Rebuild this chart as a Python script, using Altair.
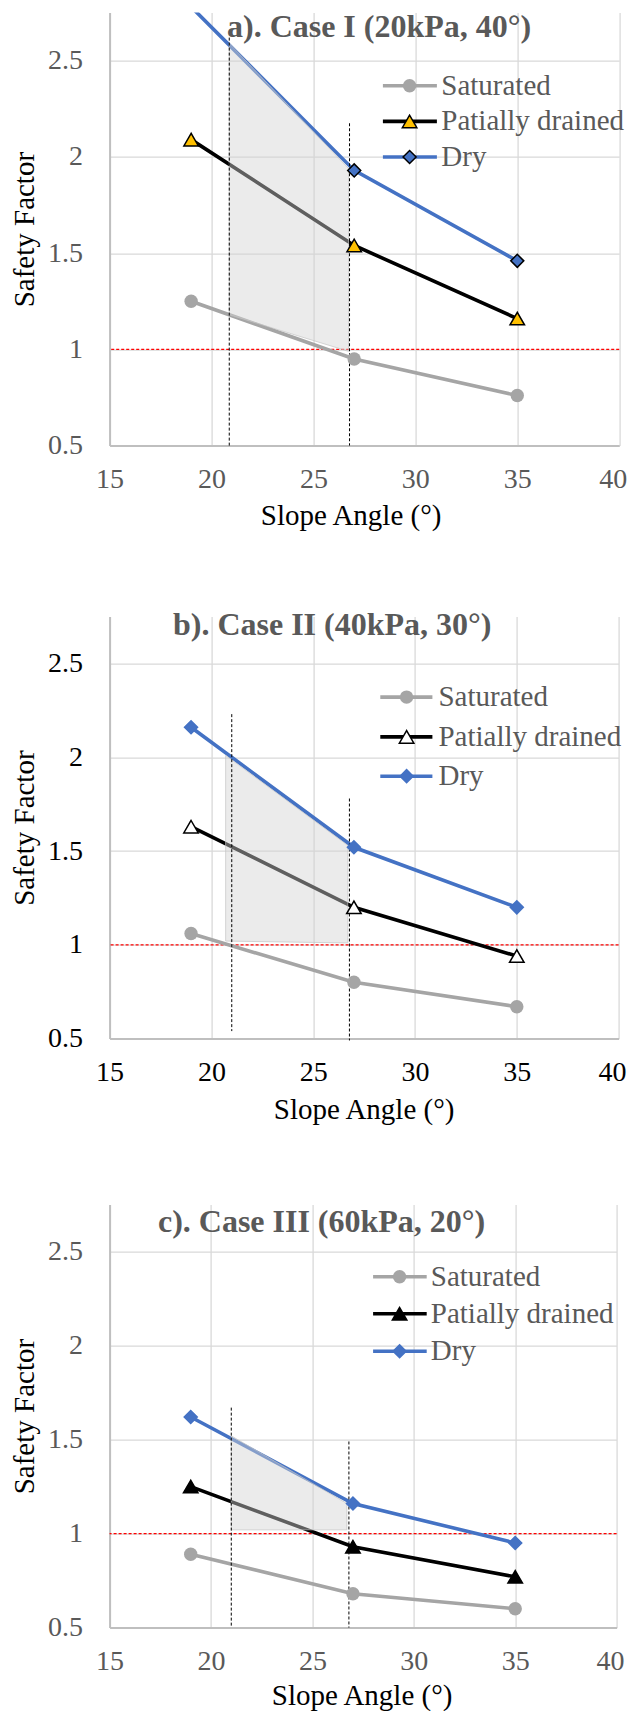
import altair as alt
import pandas as pd

FONT = "Liberation Serif"
GRAY_TXT = "#595959"

# ---------------- data ----------------
angles = [19, 27, 35]
series_names = ["Saturated", "Patially drained", "Dry"]
series_colors = ["#a5a5a5", "#000000", "#4472c4"]

x_ticks = [15, 20, 25, 30, 35, 40]
y_ticks = [0.5, 1, 1.5, 2, 2.5]
x_domain = [15, 40]
y_domain = [0.5, 2.75]
threshold = [1.0]

titles = ["a). Case I (20kPa, 40°)", "b). Case II (40kPa, 30°)", "c). Case III (60kPa, 20°)"]

# Case I
a_sat = [1.25, 0.95, 0.76]
a_part = [2.09, 1.54, 1.16]
a_dry = [2.78, 1.93, 1.46]
# Case II
b_sat = [1.06, 0.80, 0.67]
b_part = [1.63, 1.20, 0.94]
b_dry = [2.16, 1.52, 1.20]
# Case III
c_sat = [0.89, 0.68, 0.60]
c_part = [1.25, 0.93, 0.77]
c_dry = [1.62, 1.16, 0.95]

# dashed vertical guides (x, top, bottom)
a_vx, a_vtop, a_vbot = [20.87, 26.77], [2.62, 2.175], [0.5, 0.5]
b_vx, b_vtop, b_vbot = [21.0, 26.78], [2.23, 1.78], [0.54, 0.49]
c_vx, c_vtop, c_vbot = [21.0, 26.8], [1.67, 1.49], [0.5, 0.5]

# shaded zones (x, top, bottom)
a_sx, a_stop, a_sbot = [20.87, 26.72], [2.59, 1.94], [1.18, 0.99]
b_sx, b_stop, b_sbot = [20.7, 26.7], [2.01, 1.53], [1.02, 1.01]
c_sx, c_stop, c_sbot = [21.0, 26.7], [1.52, 1.16], [1.02, 1.02]

one = pd.DataFrame({"_": [0]})
PAD_LEFT = 2.6
Y_TITLE_X = -84.9   # y-axis title centre, relative to the plot's left edge


def make_panel(title, sat, part, dry, vx, vtop, vbot, sx, stop, sbot, st):
    xs = alt.Scale(domain=x_domain, nice=False, zero=False)
    ys = alt.Scale(domain=y_domain, nice=False, zero=False)
    last = x_ticks[-1]
    xaxis = alt.Axis(
        values=x_ticks, title="Slope Angle (°)", grid=True, gridColor="#d9d9d9",
        gridWidth=1.3, domainColor="#bfbfbf", domainWidth=2, ticks=False, tickSize=0,
        labelFont=FONT, labelFontSize=28, labelColor=st["lab"], labelPadding=34,
        labelBaseline="middle", labelFlush=False, labelOverlap=False,
        labelAlign=alt.condition(f"datum.value == {last}", alt.value("right"), alt.value("center")),
        labelOffset=alt.condition(f"datum.value == {last}", alt.value(7.5), alt.value(0)),
        titleFont=FONT, titleFontSize=29, titleFontWeight="normal", titleColor="black",
        titleX=st["xtx"], titleY=st["xty"], titleBaseline="middle", titleAlign="center",
    )
    yaxis = alt.Axis(
        values=y_ticks, format="~g", title="Safety Factor", grid=True, gridColor="#d9d9d9",
        gridWidth=1.3, domainColor="#bfbfbf", domainWidth=2, ticks=False, tickSize=0,
        labelFont=FONT, labelFontSize=28, labelColor=st["lab"], labelPadding=27,
        labelAlign="right", labelBaseline="middle", labelOverlap=False,
        titleFont=FONT, titleFontSize=29, titleFontWeight="normal", titleColor="black",
        titleX=Y_TITLE_X, titleY=st["h"] / 2, titleAngle=270,
        titleBaseline="middle", titleAlign="center",
    )

    def X(f):
        return alt.X(f, scale=xs, axis=xaxis)

    def Y(f):
        return alt.Y(f, scale=ys, axis=yaxis)

    layers = []
    # invisible spacer fixing the panel's vertical extent for the layout
    layers.append(
        alt.Chart(one).mark_rule(strokeOpacity=0, opacity=0)
        .encode(x=alt.value(0), y=alt.value(-20), y2=alt.value(st["h"] + st["ebot"]))
    )
    # red threshold
    layers.append(
        alt.Chart(pd.DataFrame({"y": threshold}))
        .mark_rule(color="#ff0000", strokeDash=[3, 2], strokeWidth=1.3)
        .encode(y=Y("y:Q"))
    )
    # lines
    df = pd.DataFrame({
        "angle": angles * 3,
        "value": sat + part + dry,
        "series": [n for n in series_names for _ in angles],
    })
    layers.append(
        alt.Chart(df).mark_line(clip=True, strokeWidth=3.6).encode(
            x=X("angle:Q"), y=Y("value:Q"),
            color=alt.Color("series:N", scale=alt.Scale(domain=series_names, range=series_colors), legend=None),
        )
    )
    # shaded zone
    layers.append(
        alt.Chart(pd.DataFrame({"x": sx, "top": stop, "bot": sbot}))
        .mark_area(fill="#d2d2d2", fillOpacity=0.45, stroke="#c4c4c4", strokeWidth=1, strokeOpacity=0.7)
        .encode(x=X("x:Q"), y=Y("top:Q"), y2="bot:Q")
    )
    # dashed verticals
    layers.append(
        alt.Chart(pd.DataFrame({"x": vx, "top": vtop, "bot": vbot}))
        .mark_rule(color="black", strokeDash=[3, 2], strokeWidth=1)
        .encode(x=X("x:Q"), y=Y("top:Q"), y2="bot:Q")
    )
    # markers (points outside the axis range are not drawn)
    mstyles = [
        dict(shape="circle", size=180, fill="#a5a5a5", stroke="#a5a5a5", strokeWidth=0),
        dict(shape="triangle-up", size=210, fill=st["tri_fill"], stroke=st["tri_stroke"], strokeWidth=1.5),
        dict(shape="diamond", size=170, fill="#4472c4", stroke=st["dia_stroke"], strokeWidth=1.5),
    ]
    for vals, ms in zip([sat, part, dry], mstyles):
        layers.append(
            alt.Chart(pd.DataFrame({"angle": angles, "value": vals}))
            .transform_filter(f"datum.value <= {y_domain[1]}")
            .mark_point(filled=True, opacity=1, clip=True, **ms)
            .encode(x=X("angle:Q"), y=Y("value:Q"))
        )
    # legend
    x0, x1, xm, xt = st["leg_x"]
    for name, col, ry, ms in zip(series_names, series_colors, st["leg_y"], mstyles):
        layers.append(
            alt.Chart(one).mark_rule(color=col, strokeWidth=3.6)
            .encode(x=alt.value(x0), x2=alt.value(x1), y=alt.value(ry))
        )
        layers.append(
            alt.Chart(one).mark_point(filled=True, opacity=1, **ms)
            .encode(x=alt.value(xm), y=alt.value(ry))
        )
        layers.append(
            alt.Chart(one).mark_text(font=FONT, fontSize=29, color=GRAY_TXT, align="left", baseline="middle")
            .encode(x=alt.value(xt), y=alt.value(ry), text=alt.value(name))
        )
    # title
    layers.append(
        alt.Chart(pd.DataFrame({"t": [title]}))
        .mark_text(font=FONT, fontSize=32, fontWeight="bold", color=GRAY_TXT, align="center", baseline="middle")
        .encode(text="t:N", x=alt.value(st["tx"]), y=alt.value(st["ty"]))
    )
    return alt.layer(*layers).properties(width=st["w"], height=st["h"])


style_a = dict(w=509.6, h=433, lab=GRAY_TXT, tri_fill="#ffc000", tri_stroke="black",
               dia_stroke="black", xtx=241, xty=70, tx=269.5, ty=14, ebot=110.9,
               leg_x=(273.3, 327.3, 300, 331.7), leg_y=(73.1, 108.8, 144.4))
style_b = dict(w=509, h=422, lab="black", tri_fill="white", tri_stroke="black",
               dia_stroke="#4472c4", xtx=254, xty=71, tx=222.6, ty=8, ebot=105.5,
               leg_x=(270.7, 322.8, 297, 328.9), leg_y=(80.5, 120.3, 159.6))
style_c = dict(w=507, h=423, lab=GRAY_TXT, tri_fill="black", tri_stroke="black",
               dia_stroke="#4472c4", xtx=252, xty=68, tx=212, ty=17.7, ebot=60,
               leg_x=(263.5, 317.1, 290, 321.2), leg_y=(72.2, 109.1, 146.7))

pa = make_panel(titles[0], a_sat, a_part, a_dry, a_vx, a_vtop, a_vbot, a_sx, a_stop, a_sbot, style_a)
pb = make_panel(titles[1], b_sat, b_part, b_dry, b_vx, b_vtop, b_vbot, b_sx, b_stop, b_sbot, style_b)
pc = make_panel(titles[2], c_sat, c_part, c_dry, c_vx, c_vtop, c_vbot, c_sx, c_stop, c_sbot, style_c)

chart = (
    alt.concat(pa, pb, pc, columns=1, spacing=40, align="none", bounds="full")
    .properties(padding={"top": -15.4, "left": PAD_LEFT, "right": 0, "bottom": 0}, background="white")
    .configure_view(stroke=None)
)

chart.save("out.html", embed_options={"renderer": "svg", "actions": False})
